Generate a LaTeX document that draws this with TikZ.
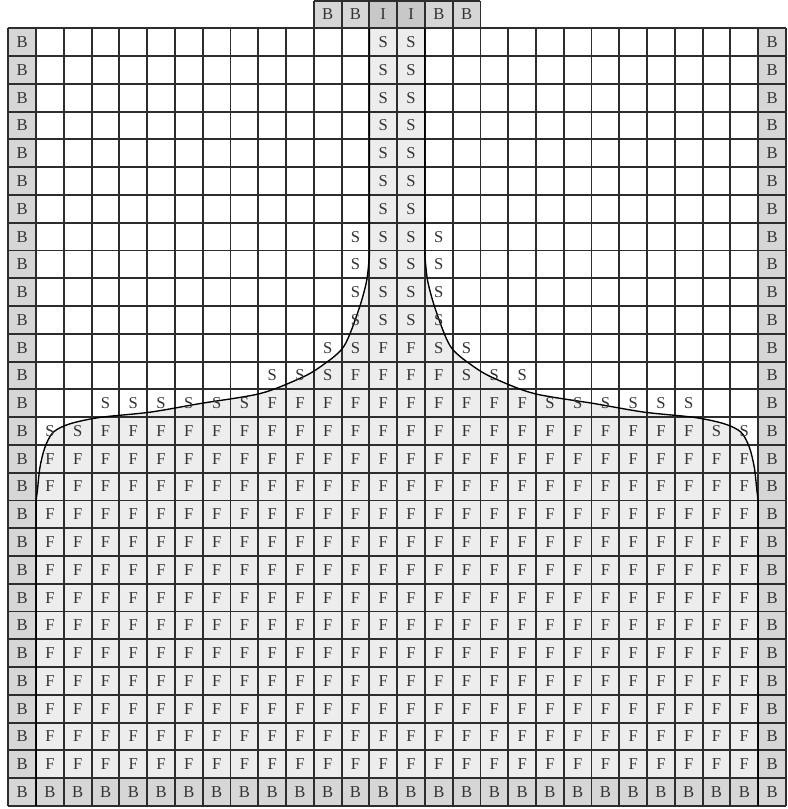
\documentclass[tikz,border=0pt]{standalone}
\usepackage{fontspec}
\setmainfont{Liberation Serif}
\definecolor{wallgray}{RGB}{214,214,214}
\definecolor{inletgray}{RGB}{200,200,200}
\definecolor{fluidgray}{RGB}{237,237,237}
\definecolor{gridline}{RGB}{45,45,45}
\usetikzlibrary{calc}

\begin{document}
\begin{tikzpicture}[x=0.5cm, y=0.5cm,
  lbl/.style={font=\fontsize{8.5}{9}\selectfont, text=black!80, inner sep=0pt},
  wall/.style={fill=wallgray},
  inlet/.style={fill=inletgray},
  gridl/.style={draw=gridline, line width=0.95pt, step=0.5cm},
  surf/.style={draw=black, line width=0.7pt},
]
\useasboundingbox (-0.30,-0.11) rectangle (28.04,29.02);

% Fluid region
\fill[fluidgray] (1,0) -- (1,11.0)
  -- plot[smooth] coordinates {(1,11.0) (1.05,11.4) (1.14,12.2) (1.32,12.92)
     (1.62,13.46) (2.22,13.76) (3.3,13.99) (5.11,14.18) (6.91,14.49)
     (9.07,14.85) (10.51,15.4) (11.23,15.81) (12.07,16.53) (12.61,17.85)
     (12.9,18.9) (13,19.8)}
  -- (13,28) -- (15,28) -- (15,19.8)
  -- plot[smooth] coordinates {(15,19.8) (15.1,18.9) (15.39,17.85)
     (15.93,16.53) (16.77,15.81) (17.49,15.4) (18.93,14.85) (21.09,14.49)
     (22.89,14.18) (24.7,13.99) (25.78,13.76) (26.38,13.46) (26.68,12.92)
     (26.86,12.2) (26.95,11.4) (27,11.0)}
  -- (27,0) -- cycle;

% Boundary cells
\foreach \r in {0,...,27} {
  \fill[wall] (0,27-\r) rectangle ++(1,1);
  \fill[wall] (27,27-\r) rectangle ++(1,1);
}
\foreach \c in {1,...,26}
  \fill[wall] (\c,0) rectangle ++(1,1);
\foreach \c in {11,12,15,16}
  \fill[wall] (\c,28) rectangle ++(1,1);
\foreach \c in {13,14}
  \fill[inlet] (\c,28) rectangle ++(1,1);

% Grid
\draw[gridl] (0,0) grid (28,28);
\draw[gridl] (11,28) grid (17,29);

% Free surface
\draw[surf] (1,0) -- (1,11.0)
  -- plot[smooth] coordinates {(1,11.0) (1.05,11.4) (1.14,12.2) (1.32,12.92)
     (1.62,13.46) (2.22,13.76) (3.3,13.99) (5.11,14.18) (6.91,14.49)
     (9.07,14.85) (10.51,15.4) (11.23,15.81) (12.07,16.53) (12.61,17.85)
     (12.9,18.9) (13,19.8)} -- (13,28);
\draw[surf] (15,28) -- (15,19.8)
  -- plot[smooth] coordinates {(15,19.8) (15.1,18.9) (15.39,17.85)
     (15.93,16.53) (16.77,15.81) (17.49,15.4) (18.93,14.85) (21.09,14.49)
     (22.89,14.18) (24.7,13.99) (25.78,13.76) (26.38,13.46) (26.68,12.92)
     (26.86,12.2) (26.95,11.4) (27,11.0)} -- (27,0);

% Cell labels
\foreach \r in {0,...,27} {
  \node[lbl] (bl-\r) at (0.5,27.5-\r) {B};
  \node[lbl] (br-\r) at (27.5,27.5-\r) {B};
}
\foreach \c in {1,...,26}
  \node[lbl] (bb-\c) at (\c+0.5,0.5) {B};
\foreach \c/\t in {11/B,12/B,13/I,14/I,15/B,16/B}
  \node[lbl] (top-\c) at (\c+0.5,28.5) {\t};

% Surface cells
\foreach \r/\cols in {0/{13,14},1/{13,14},2/{13,14},3/{13,14},4/{13,14},
    5/{13,14},6/{13,14},7/{12,13,14,15},8/{12,13,14,15},9/{12,13,14,15},
    10/{12,13,14,15},11/{11,12,15,16},12/{9,10,11,16,17,18},
    13/{3,4,5,6,7,8,19,20,21,22,23,24},14/{1,2,25,26}}
  \foreach \c in \cols
    \node[lbl] (s-\c-\r) at (\c+0.5,27.5-\r) {S};

% Full cells
\foreach \r/\cols in {11/{13,14},12/{12,...,15},13/{9,...,18},14/{3,...,24}}
  \foreach \c in \cols
    \node[lbl] (f-\c-\r) at (\c+0.5,27.5-\r) {F};
\foreach \r in {15,...,26}
  \foreach \c in {1,...,26}
    \node[lbl] (f-\c-\r) at (\c+0.5,27.5-\r) {F};
\end{tikzpicture}
\end{document}
